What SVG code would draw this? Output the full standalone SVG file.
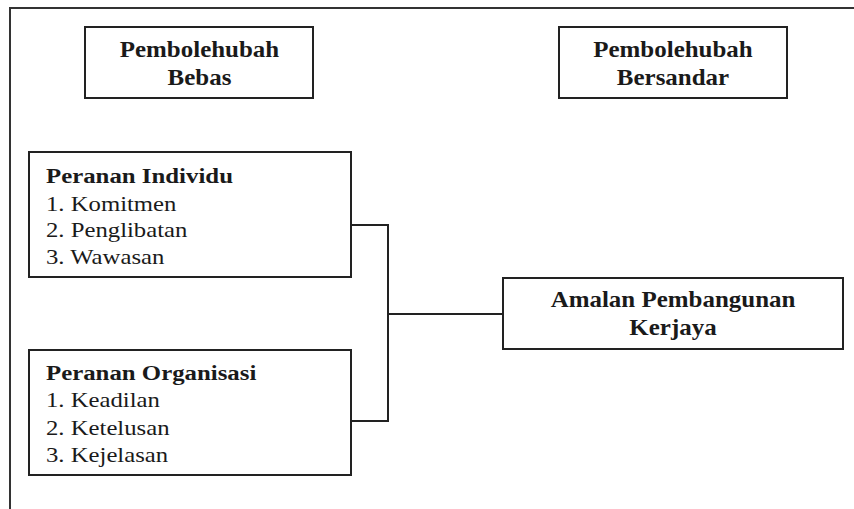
<svg xmlns="http://www.w3.org/2000/svg" width="854" height="509" viewBox="0 0 854 509">
<style>
.box{fill:#fff;stroke:#222;stroke-width:2}
.frame{fill:none;stroke:#333;stroke-width:2}
.con{fill:none;stroke:#222;stroke-width:2}
.h{font-family:"Liberation Serif","Times New Roman",serif;font-weight:bold;font-size:22.5px;fill:#1a1a1a;text-anchor:middle}
.t{font-family:"Liberation Serif","Times New Roman",serif;font-size:21.5px;fill:#1a1a1a}
.tb{font-weight:bold}
</style>
<path class="frame" d="M10,509 V8 H854"/>
<g id="node-bebas">
<rect class="box" x="85" y="27" width="228" height="71"/>
<text class="h" transform="translate(199.5 57) scale(1.11 1)">Pembolehubah</text>
<text class="h" transform="translate(199.5 85) scale(1.11 1)">Bebas</text>
</g>
<g id="node-bersandar">
<rect class="box" x="559" y="27" width="228" height="71"/>
<text class="h" transform="translate(673 57) scale(1.11 1)">Pembolehubah</text>
<text class="h" transform="translate(673 85) scale(1.11 1)">Bersandar</text>
</g>
<g id="node-individu">
<rect class="box" x="29" y="152" width="322" height="125"/>
<text class="t tb" transform="translate(46 183) scale(1.155 1)">Peranan Individu</text>
<text class="t" transform="translate(46 210.5) scale(1.15 1)">1. Komitmen</text>
<text class="t" transform="translate(46 237) scale(1.15 1)">2. Penglibatan</text>
<text class="t" transform="translate(46 264) scale(1.15 1)">3. Wawasan</text>
</g>
<g id="node-organisasi">
<rect class="box" x="29" y="350" width="322" height="125"/>
<text class="t tb" transform="translate(46 380) scale(1.155 1)">Peranan Organisasi</text>
<text class="t" transform="translate(46 407) scale(1.15 1)">1. Keadilan</text>
<text class="t" transform="translate(46 435) scale(1.15 1)">2. Ketelusan</text>
<text class="t" transform="translate(46 462) scale(1.15 1)">3. Kejelasan</text>
</g>
<g id="node-amalan">
<rect class="box" x="503" y="278" width="340" height="71"/>
<text class="h" transform="translate(673 307) scale(1.11 1)">Amalan Pembangunan</text>
<text class="h" transform="translate(673 335) scale(1.11 1)">Kerjaya</text>
</g>
<g id="connectors">
<path class="con" d="M351,225 H388 V421 H351"/>
<path class="con" d="M388,314 H503"/>
</g>
</svg>
